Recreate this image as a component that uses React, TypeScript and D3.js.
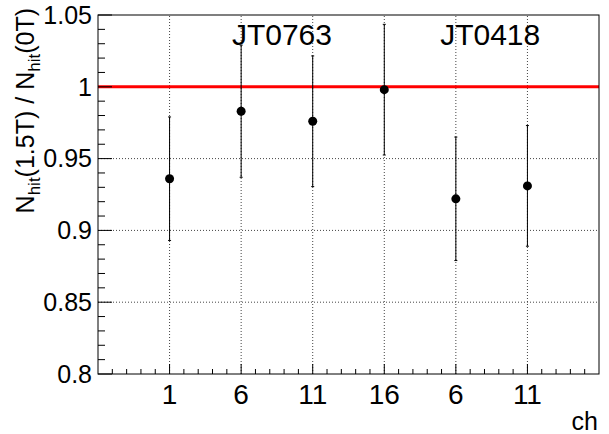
import React from "react";
import * as d3 from "d3";

// ---- data ----
const channels = [1, 6, 11, 16, 21, 26];
const channelLabels = ["1", "6", "11", "16", "6", "11"];
const ratios = [0.936, 0.983, 0.976, 0.998, 0.922, 0.931];
const ratioErrors = [0.043, 0.046, 0.0455, 0.0455, 0.043, 0.042];
const yMajorTicks = [0.8, 0.85, 0.9, 0.95, 1.0, 1.05];
const yTickLabels = ["0.8", "0.85", "0.9", "0.95", "1", "1.05"];
const groupNames = ["JT0763", "JT0418"];
const groupCenters = [8.85, 23.4];
const referenceLevel = 1.0;

const W = 609;
const H = 434;
const FONT = "'Liberation Sans', Arial, Helvetica, sans-serif";

export default function App() {
  const x = d3.scaleLinear().domain([-4, 31]).range([98, 599]);
  const y = d3.scaleLinear().domain([0.8, 1.05]).range([374, 15]);
  const [x0, x1] = x.range();
  const [yb, yt] = y.range();

  const xMinor = d3.range(-3, 31).filter((v) => !channels.includes(v));
  const yMinor = d3
    .range(0, 26)
    .map((i) => 0.8 + i * 0.01)
    .filter((v) => !yMajorTicks.some((m) => Math.abs(m - v) < 1e-6));

  const gridY = yMajorTicks.filter((v) => v > 0.8 + 1e-6 && v < 1.05 - 1e-6);

  return (
    <svg
      width={W}
      height={H}
      style={{ position: "absolute", left: 0, top: 0, background: "#fff" }}
      fontFamily={FONT}
    >
      <rect x={0} y={0} width={W} height={H} fill="#fff" />
      {/* grid */}
      <g stroke="#444" strokeWidth={1} strokeDasharray="1,2">
        {channels.map((c) => (
          <line key={"gx" + c} x1={x(c)} x2={x(c)} y1={yb} y2={yt} />
        ))}
        {gridY.map((v) => (
          <line key={"gy" + v} x1={x0} x2={x1} y1={y(v)} y2={y(v)} />
        ))}
      </g>
      {/* reference line */}
      <line
        x1={x0}
        x2={x1}
        y1={y(referenceLevel)}
        y2={y(referenceLevel)}
        stroke="#ff0000"
        strokeWidth={3}
      />
      {/* frame */}
      <rect
        x={x0}
        y={yt}
        width={x1 - x0}
        height={yb - yt}
        fill="none"
        stroke="#000"
        strokeWidth={1}
      />
      {/* ticks */}
      <g stroke="#000" strokeWidth={1}>
        {channels.map((c) => (
          <line key={"xt" + c} x1={x(c)} x2={x(c)} y1={yb} y2={yb - 10} />
        ))}
        {xMinor.map((c) => (
          <line key={"xm" + c} x1={x(c)} x2={x(c)} y1={yb} y2={yb - 5} />
        ))}
        {yMajorTicks.map((v) => (
          <line key={"yt" + v} x1={x0} x2={x0 + 14} y1={y(v)} y2={y(v)} />
        ))}
        {yMinor.map((v) => (
          <line key={"ym" + v} x1={x0} x2={x0 + 7} y1={y(v)} y2={y(v)} />
        ))}
      </g>
      {/* x tick labels */}
      <g fontSize={28} textAnchor="middle" fill="#000">
        {channels.map((c, i) => (
          <text key={"xl" + c} x={x(c)} y={404}>
            {channelLabels[i]}
          </text>
        ))}
      </g>
      {/* y tick labels */}
      <g fontSize={25} textAnchor="end" fill="#000">
        {yMajorTicks.map((v, i) => (
          <text key={"yl" + v} x={92} y={y(v)} dy="0.35em">
            {yTickLabels[i]}
          </text>
        ))}
      </g>
      {/* error bars and markers */}
      <g>
        {channels.map((c, i) => {
          const cx = x(c);
          const lo = y(ratios[i] - ratioErrors[i]);
          const hi = y(ratios[i] + ratioErrors[i]);
          return (
            <g key={"pt" + c}>
              <line x1={cx} x2={cx} y1={lo} y2={hi} stroke="#000" strokeWidth={1} />
              <line x1={cx - 1.5} x2={cx + 1.5} y1={lo} y2={lo} stroke="#000" strokeWidth={1} />
              <line x1={cx - 1.5} x2={cx + 1.5} y1={hi} y2={hi} stroke="#000" strokeWidth={1} />
              <circle cx={cx} cy={y(ratios[i])} r={4.5} fill="#000" />
            </g>
          );
        })}
      </g>
      {/* group labels */}
      <g fontSize={30} textAnchor="middle" fill="#000">
        {groupNames.map((g, i) => (
          <text key={g} x={x(groupCenters[i])} y={45}>
            {g}
          </text>
        ))}
      </g>
      {/* axis titles */}
      <text x={598} y={430} fontSize={25} textAnchor="end" fill="#000">
        ch
      </text>
      <text
        transform="translate(34,8) rotate(-90)"
        fontSize={25}
        textAnchor="end"
        fill="#000"
      >
        N
        <tspan fontSize={17} dy={6}>hit</tspan>
        <tspan dy={-6}>(1.5T) / N</tspan>
        <tspan fontSize={17} dy={6}>hit</tspan>
        <tspan dy={-6}>(0T)</tspan>
      </text>
    </svg>
  );
}
